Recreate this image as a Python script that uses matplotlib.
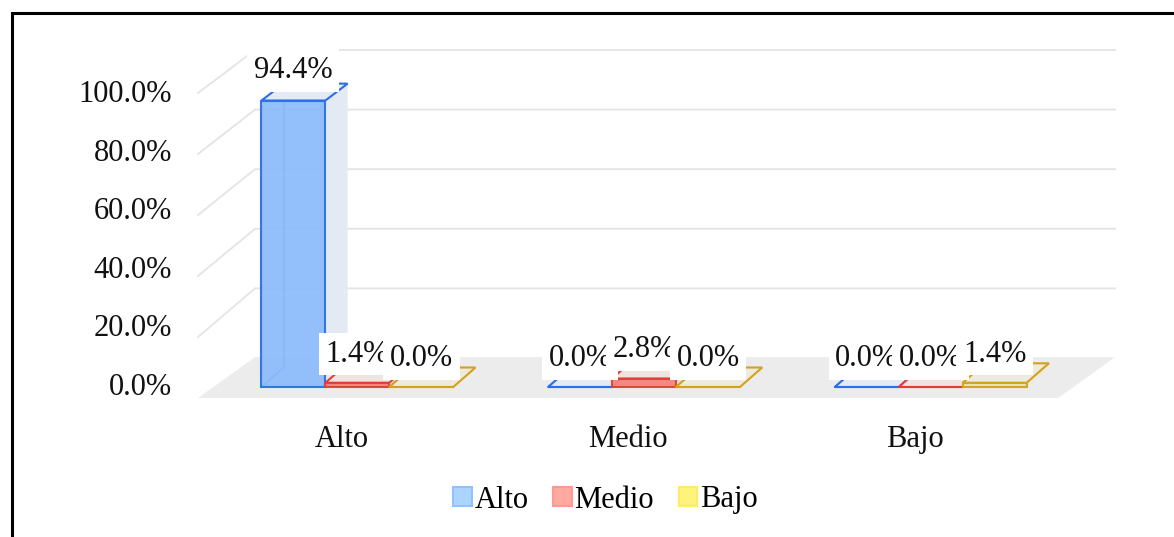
import matplotlib
matplotlib.use("Agg")
import matplotlib.pyplot as plt
from matplotlib.patches import Polygon, Patch

# data
categories = ["Alto", "Medio", "Bajo"]
series = ["Alto", "Medio", "Bajo"]
values = {
    "Alto": [94.4, 0.0, 0.0],
    "Medio": [1.4, 2.8, 0.0],
    "Bajo": [0.0, 0.0, 1.4],
}
y_ticks = [0, 20, 40, 60, 80, 100]

# styles
edge_colors = {"Alto": "#2B6FE6", "Medio": "#DE4038", "Bajo": "#D2A21E"}
front_colors = {"Alto": "#8DBCFA", "Medio": "#F4857D", "Bajo": "#EEE3C0"}
top_colors = {"Alto": "#E4EAF3", "Medio": "#F1E3E0", "Bajo": "#EEEADD"}
legend_fill = {"Alto": "#ADD4FF", "Medio": "#FFA9A0", "Bajo": "#FFF47A"}
legend_edge = {"Alto": "#8FC3FF", "Medio": "#FF9A92", "Bajo": "#FFEA6A"}

plt.rcParams['font.family'] = ['Liberation Serif', 'DejaVu Serif']
FS = 22

# fake 3d: depth offset of the back plane in data units
DX = 0.199
DV = 16.4
SHRINK = 0.023
FLOOR_BACK = 13.4
D0, D1 = 0.22, 0.61
W = 0.223


def proj(x, v, d):
    return (x + d * DX, v * (1 - SHRINK * d) + d * DV)


fig = plt.figure(figsize=(11.74, 5.37), dpi=100)
ax = fig.add_axes([0, 0, 1, 1])
ax.set_xlim(-1.1906, 2.9042)
ax.set_ylim(-45.57, 130.49)
ax.axis("off")

# floor
n = len(categories)
floor = [proj(-0.5, 0, 0), proj(n - 0.5, 0, 0),
         (n - 0.5 + DX, FLOOR_BACK), (-0.5 + DX, FLOOR_BACK)]
ax.add_patch(Polygon(floor, closed=True, facecolor="#ECECEC", edgecolor="none", zorder=1))

# gridlines: left wall diagonals + back wall
for t in y_ticks[1:]:
    fx, fy = proj(-0.5, t, 0)
    bx, by = proj(-0.5, t, 1)
    ex, ey = proj(n - 0.5, t, 1)
    ax.plot([fx, bx, ex], [fy, by, ey], color="#E4E4E4", lw=1.3, zorder=0.5)

# tick labels
for t in y_ticks:
    ax.text(-0.591, 0.961 * t + 0.98, "%.1f%%" % t, ha="right", va="baseline",
            fontsize=FS, color="#111111")

# category labels
for i, c in enumerate(categories):
    ax.text(i, -16.1, c, ha="center", va="baseline", fontsize=FS, color="#111111")

# bars
z = 3
labels = []
for i, c in enumerate(categories):
    left0 = i - 1.5 * W + 0.012
    for j, s in enumerate(series):
        v = values[s][i]
        x0 = left0 + j * W
        x1 = x0 + W
        ec = edge_colors[s]
        # hidden back-left edges seen through front
        bx0, bb = proj(x0, 0, D1)
        _, bt = proj(x0, v, D1)
        ax.plot([bx0, bx0], [bb, bt], color=ec, lw=1.2, zorder=z)
        fx0, fb = proj(x0, 0, D0)
        ax.plot([fx0, bx0], [fb, bb], color=ec, lw=1.2, zorder=z)
        # side face
        side = [proj(x1, 0, D0), proj(x1, v, D0), proj(x1, v, D1), proj(x1, 0, D1)]
        ax.add_patch(Polygon(side, closed=True, facecolor=top_colors[s],
                             edgecolor="none", zorder=z))
        # top face
        top = [proj(x0, v, D0), proj(x1, v, D0), proj(x1, v, D1), proj(x0, v, D1)]
        ax.add_patch(Polygon(top, closed=True, facecolor=top_colors[s],
                             edgecolor=ec, lw=1.5, zorder=z + 0.1))
        # front face
        front = [proj(x0, 0, D0), proj(x1, 0, D0), proj(x1, v, D0), proj(x0, v, D0)]
        ax.add_patch(Polygon(front, closed=True, facecolor=front_colors[s],
                             edgecolor=ec, lw=1.5, alpha=0.95, zorder=z + 0.2))
        z += 1
        lx, _ = proj(x0 + W / 2, 0, D0)
        labels.append((lx, v + 10.5, "%.1f%%" % v))

# data labels (later ones sit on top of earlier ones)
for k, (lx, ly, txt) in enumerate(labels):
    ax.text(lx, ly, txt, ha="center", va="baseline", fontsize=FS, color="#111111",
            zorder=50 + k,
            bbox=dict(boxstyle="square,pad=0.22", facecolor="white", edgecolor="none"))

# legend
handles = [Patch(facecolor=legend_fill[s], edgecolor=legend_edge[s], lw=1.5, label=s)
           for s in series]
fig.legend(handles=handles, loc="center", bbox_to_anchor=(605.5 / 1174, 1 - 500 / 537),
           ncol=3, frameon=False, fontsize=FS, handlelength=0.6, handleheight=0.6,
           handletextpad=0.1, columnspacing=0.8, borderpad=0)

# frame of the picture (top and left only)
ax.plot([0.0105, 0.0105, 1.0], [0.0, 0.9758, 0.9758], color="black", lw=2.2,
        transform=ax.transAxes, solid_joinstyle="miter", zorder=100)

fig.savefig("out.png", dpi=100)
